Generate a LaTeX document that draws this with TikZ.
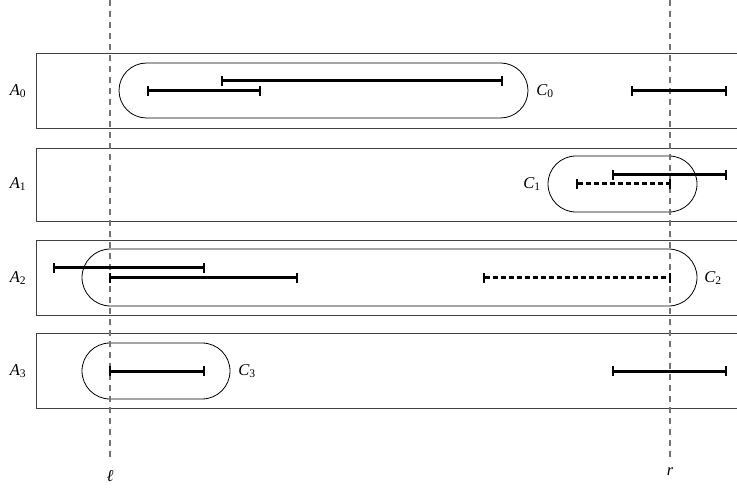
\documentclass[tikz,border=0pt]{standalone}
\usepackage{fontspec}
\setmainfont{Liberation Serif}
\usetikzlibrary{arrows.meta}
\newcommand{\lbl}[2]{\textit{#1}\textsubscript{#2}}
\begin{document}
\begin{tikzpicture}[x=1pt,y=-1pt,
  rowbox/.style={draw=black!75,line width=0.9pt},
  capsule/.style={draw=black,line width=0.8pt},
  ivl/.style={line width=3pt,{Bar[width=10pt,line width=2.2pt]}-{Bar[width=10pt,line width=2.2pt]},shorten <=-1.1pt,shorten >=-1.1pt},
  dashivl/.style={ivl,dash pattern=on 5pt off 3pt},
  guide/.style={draw=black!55,line width=1.1pt,dash pattern=on 6pt off 5pt},
  lab/.style={inner sep=0pt,font=\fontsize{16.5}{19}\selectfont}]
\useasboundingbox (0,0) rectangle (737,489);
% row boxes (open at the right edge)
\draw[rowbox] (740,53) -- (36,53) -- (36,128) -- (740,128);
\draw[rowbox] (740,148) -- (36,148) -- (36,221) -- (740,221);
\draw[rowbox] (740,240) -- (36,240) -- (36,315) -- (740,315);
\draw[rowbox] (740,333) -- (36,333) -- (36,408) -- (740,408);
% capsules
\draw[capsule,rounded corners=27.5pt] (119,63) rectangle (528,118);
\draw[capsule,rounded corners=28pt] (548,156) rectangle (697,212);
\draw[capsule,rounded corners=28.5pt] (82,249) rectangle (697,306);
\draw[capsule,rounded corners=28pt] (82,343) rectangle (230,399);
% guide lines
\coordinate (lt) at (110,0); \coordinate (lb) at (110,458);
\coordinate (rt) at (670,0); \coordinate (rb) at (670,458);
\draw[guide] (lt) -- (lb);
\draw[guide] (rt) -- (rb);
\node[lab] (ell) at (110,476) {\textit{ℓ}};
\node[lab] (r) at (670,472) {\textit{r}};
% intervals A0
\coordinate (a0s) at (222,81); \coordinate (a0e) at (502,81);
\coordinate (a1s) at (148,91); \coordinate (a1e) at (260,91);
\coordinate (a2s) at (632,91); \coordinate (a2e) at (726,91);
\draw[ivl] (a0s) -- (a0e);
\draw[ivl] (a1s) -- (a1e);
\draw[ivl] (a2s) -- (a2e);
% A1
\coordinate (b0s) at (613,175); \coordinate (b0e) at (726,175);
\coordinate (b1s) at (577,184); \coordinate (b1e) at (670,184);
\draw[ivl] (b0s) -- (b0e);
\draw[dashivl] (b1s) -- (b1e);
% A2
\coordinate (c0s) at (54,268); \coordinate (c0e) at (204,268);
\coordinate (c1s) at (110,278); \coordinate (c1e) at (297,278);
\coordinate (c2s) at (484,278); \coordinate (c2e) at (670,278);
\draw[ivl] (c0s) -- (c0e);
\draw[ivl] (c1s) -- (c1e);
\draw[dashivl] (c2s) -- (c2e);
% A3
\coordinate (d0s) at (110,371); \coordinate (d0e) at (204,371);
\coordinate (d1s) at (613,371); \coordinate (d1e) at (726,371);
\draw[ivl] (d0s) -- (d0e);
\draw[ivl] (d1s) -- (d1e);
% labels
\node[lab] (A0) at (18,91) {\lbl{A}{0}};
\node[lab] (A1) at (18,184) {\lbl{A}{1}};
\node[lab] (A2) at (18,278) {\lbl{A}{2}};
\node[lab] (A3) at (18,371) {\lbl{A}{3}};
\node[lab] (C0) at (545,91) {\lbl{C}{0}};
\node[lab] (C1) at (532,184) {\lbl{C}{1}};
\node[lab] (C2) at (713,278) {\lbl{C}{2}};
\node[lab] (C3) at (247,371) {\lbl{C}{3}};
\end{tikzpicture}
\end{document}
